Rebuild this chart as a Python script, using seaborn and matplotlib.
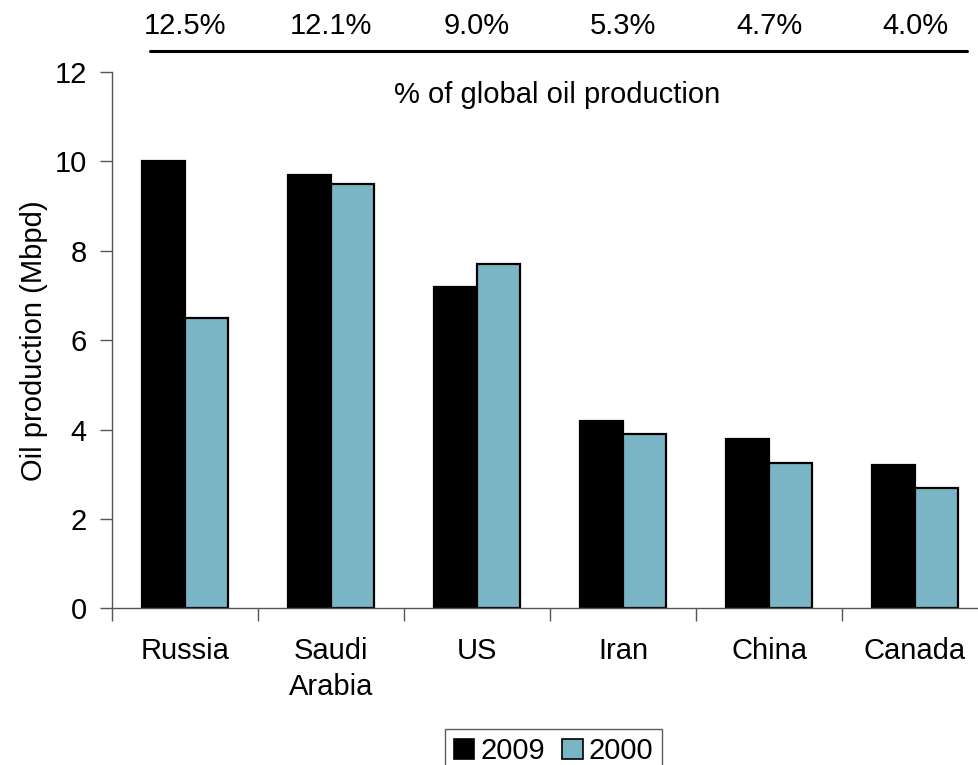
import matplotlib
matplotlib.use("Agg")
import matplotlib.pyplot as plt
import seaborn as sns
import pandas as pd
import numpy as np

countries = ["Russia", "Saudi\nArabia", "US", "Iran", "China", "Canada"]
prod_2009 = [10.0, 9.7, 7.2, 4.2, 3.8, 3.2]
prod_2000 = [6.5, 9.5, 7.7, 3.9, 3.25, 2.7]
global_share = ["12.5%", "12.1%", "9.0%", "5.3%", "4.7%", "4.0%"]
years = ["2009", "2000"]
colors = {"2009": "#000000", "2000": "#7AB5C5"}

sns.set_style("white")
plt.rcParams["font.family"] = ["Liberation Sans", "DejaVu Sans"]
plt.rcParams["text.color"] = "black"
plt.rcParams["axes.labelcolor"] = "black"
plt.rcParams["xtick.color"] = "black"
plt.rcParams["ytick.color"] = "black"

df = pd.DataFrame({
    "country": countries * 2,
    "production": prod_2009 + prod_2000,
    "year": [years[0]] * len(countries) + [years[1]] * len(countries),
})

fig = plt.figure(figsize=(9.79, 7.65), dpi=100)
ax = fig.add_axes([0.1144, 0.2046, 0.8948, 0.7014])

sns.barplot(data=df, x="country", y="production", hue="year",
            hue_order=years, palette=colors, saturation=1, width=0.59,
            edgecolor="black", linewidth=1.6, ax=ax, legend=False,
            order=countries)

fs = 21
ax.set_xlim(-0.5, len(countries) - 0.5)
ax.set_ylim(0, 12)
ax.set_yticks(np.arange(0, 13, 2))
ax.tick_params(axis="y", labelsize=fs, length=9, width=1, color="#555555",
               labelcolor="black", direction="out", left=True, pad=9)
ax.set_xticks(range(len(countries)))
ax.set_xticklabels(countries, fontsize=fs, linespacing=1.38)
ax.tick_params(axis="x", which="major", length=0, pad=20.5, labelcolor="black")
ax.set_xticks(np.arange(-0.5, len(countries), 1.0), minor=True)
ax.tick_params(axis="x", which="minor", length=9, width=1, color="#555555",
               direction="out", bottom=True)

for side in ["top", "right"]:
    ax.spines[side].set_visible(False)
for side in ["left", "bottom"]:
    ax.spines[side].set_color("#555555")
    ax.spines[side].set_linewidth(1.0)

ax.set_xlabel("")
ax.set_ylabel("Oil production (Mbpd)", fontsize=fs, labelpad=5, color="black")

# share of global output above each country
trans = matplotlib.transforms.blended_transform_factory(ax.transData, ax.transAxes)
for i, share in enumerate(global_share):
    ax.text(i, 1.0708, share, transform=trans, ha="center", va="baseline",
            fontsize=fs, clip_on=False, color="black")
ax.plot([0.043, 0.976], [1.039, 1.039], transform=ax.transAxes,
        color="black", lw=2.2, clip_on=False)
ax.text(0.508, 0.942, "% of global oil production", transform=ax.transAxes,
        ha="center", va="baseline", fontsize=fs, color="black")

handles = [matplotlib.patches.Patch(facecolor=colors[y], edgecolor="black",
                                    linewidth=1.2, label=y) for y in years]
leg = fig.legend(handles=handles, loc="lower center",
                 bbox_to_anchor=(0.5654, -0.012), ncol=2, fontsize=fs,
                 frameon=True, fancybox=False, handlelength=0.7,
                 handleheight=0.7, handletextpad=0.2, columnspacing=0.6,
                 borderpad=0.3, borderaxespad=0)
leg.get_frame().set_edgecolor("#333333")
leg.get_frame().set_linewidth(1.0)

fig.savefig("out.png", dpi=100)
